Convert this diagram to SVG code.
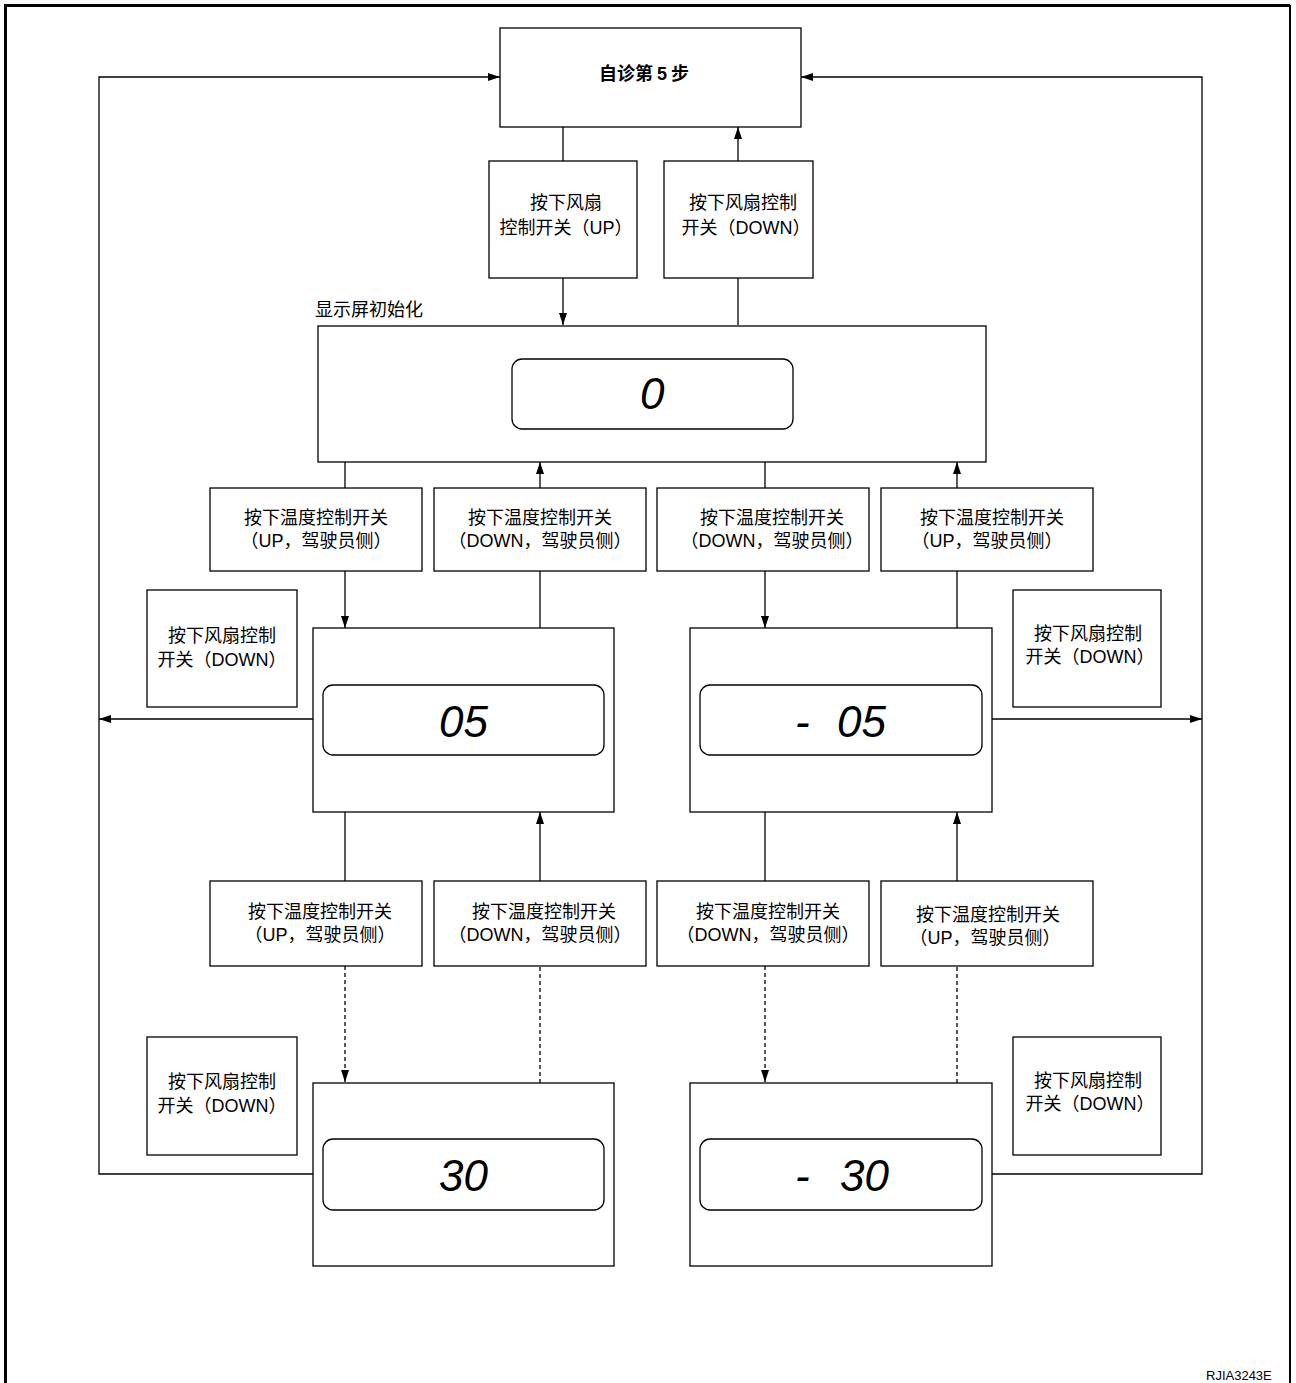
<svg xmlns="http://www.w3.org/2000/svg" width="1296" height="1383" viewBox="0 0 1296 1383">
  <defs>
    <marker id="arrow" viewBox="0 0 12 8" refX="12" refY="4" markerWidth="12" markerHeight="8" markerUnits="userSpaceOnUse" orient="auto">
      <path d="M0,0 L12,4 L0,8 Z" fill="#000"/>
    </marker>
    <style>
      .box { fill: #fff; stroke: #000; stroke-width: 1.3; }
      .lcd { fill: none; stroke: #000; stroke-width: 1.3; }
      .ln { fill: none; stroke: #000; stroke-width: 1.3; }
      .dash { stroke-dasharray: 4 3; }
      .t { font-family: "Noto Sans CJK SC", sans-serif; font-size: 18px; fill: #000; text-anchor: middle; }
      .l { font-family: "Liberation Sans", sans-serif; }
      .title { font-family: "Noto Sans CJK SC", sans-serif; font-size: 18px; font-weight: bold; fill: #000; text-anchor: middle; }
      .seg { font-family: "Liberation Sans", sans-serif; font-size: 44px; font-style: italic; fill: #000; }
      .cap { font-family: "Liberation Sans", sans-serif; font-size: 13px; fill: #000; }
    </style>
  </defs>

  <rect width="1296" height="1383" fill="#fff"/>

  <!-- page frame: heavy left/top edge, thin right edge, open at the bottom -->
  <path d="M5.5,1383 V5.5 H1290" fill="none" stroke="#000" stroke-width="3"/>
  <path d="M1290,5 V1383" fill="none" stroke="#000" stroke-width="2"/>

  <!-- connectors -->
  <g id="connectors">
    <!-- outer return loops to step 5 -->
    <path class="ln" d="M313,1174 H99 V77 H500" marker-end="url(#arrow)"/>
    <path class="ln" d="M992,1174 H1202 V77 H801" marker-end="url(#arrow)"/>
    <path class="ln" d="M313,719 H99" marker-end="url(#arrow)"/>
    <path class="ln" d="M992,719 H1202" marker-end="url(#arrow)"/>

    <!-- step 5 <-> init -->
    <path class="ln" d="M563,127 V161"/>
    <path class="ln" d="M563,278 V325" marker-end="url(#arrow)"/>
    <path class="ln" d="M738,325 V278"/>
    <path class="ln" d="M738,161 V127" marker-end="url(#arrow)"/>

    <!-- init <-> 05 / -05 -->
    <path class="ln" d="M345,462 V488"/>
    <path class="ln" d="M345,571 V628" marker-end="url(#arrow)"/>
    <path class="ln" d="M540,628 V571"/>
    <path class="ln" d="M540,488 V462" marker-end="url(#arrow)"/>
    <path class="ln" d="M765,462 V488"/>
    <path class="ln" d="M765,571 V628" marker-end="url(#arrow)"/>
    <path class="ln" d="M957,628 V571"/>
    <path class="ln" d="M957,488 V462" marker-end="url(#arrow)"/>

    <!-- 05 / -05 <-> 30 / -30 -->
    <path class="ln" d="M345,812 V881"/>
    <path class="ln dash" d="M345,966 V1082" marker-end="url(#arrow)"/>
    <path class="ln dash" d="M540,1083 V966"/>
    <path class="ln" d="M540,881 V812" marker-end="url(#arrow)"/>
    <path class="ln" d="M765,812 V881"/>
    <path class="ln dash" d="M765,966 V1082" marker-end="url(#arrow)"/>
    <path class="ln dash" d="M957,1083 V966"/>
    <path class="ln" d="M957,881 V812" marker-end="url(#arrow)"/>
  </g>

  <!-- step 5 -->
  <g id="step5">
    <rect class="box" x="500" y="28" width="301" height="99"/>
    <text class="title" x="644" y="80">自诊第 <tspan class="l">5</tspan> 步</text>
  </g>

  <!-- fan switch boxes -->
  <g id="fan-up">
    <rect class="box" x="489" y="161" width="148" height="117"/>
    <text class="t" x="566" y="209">按下风扇</text>
    <text class="t" x="566" y="234">控制开关（<tspan class="l">UP</tspan>）</text>
  </g>
  <g id="fan-down">
    <rect class="box" x="664" y="161" width="149" height="117"/>
    <text class="t" x="743" y="209">按下风扇控制</text>
    <text class="t" x="746" y="234">开关（<tspan class="l">DOWN</tspan>）</text>
  </g>

  <!-- display init -->
  <g id="display-init">
    <text class="t" x="315" y="316" style="text-anchor:start">显示屏初始化</text>
    <rect class="box" x="318" y="326" width="668" height="136"/>
    <rect class="lcd" x="512" y="359" width="281" height="70" rx="10"/>
    <text class="seg" x="640" y="409">0</text>
  </g>

  <!-- temperature switch boxes, upper row -->
  <g id="temp-up-1">
    <rect class="box" x="210" y="488" width="212" height="83"/>
    <text class="t" x="316" y="524">按下温度控制开关</text>
    <text class="t" x="316" y="547">（<tspan class="l">UP</tspan>，驾驶员侧）</text>
  </g>
  <g id="temp-down-1">
    <rect class="box" x="434" y="488" width="212" height="83"/>
    <text class="t" x="540" y="524">按下温度控制开关</text>
    <text class="t" x="540" y="547">（<tspan class="l">DOWN</tspan>，驾驶员侧）</text>
  </g>
  <g id="temp-down-2">
    <rect class="box" x="657" y="488" width="212" height="83"/>
    <text class="t" x="772" y="524">按下温度控制开关</text>
    <text class="t" x="772" y="547">（<tspan class="l">DOWN</tspan>，驾驶员侧）</text>
  </g>
  <g id="temp-up-2">
    <rect class="box" x="881" y="488" width="212" height="83"/>
    <text class="t" x="992" y="524">按下温度控制开关</text>
    <text class="t" x="987" y="547">（<tspan class="l">UP</tspan>，驾驶员侧）</text>
  </g>

  <!-- fan DOWN side notes -->
  <g id="fan-down-l1">
    <rect class="box" x="147" y="590" width="150" height="117"/>
    <text class="t" x="222" y="642">按下风扇控制</text>
    <text class="t" x="222" y="666">开关（<tspan class="l">DOWN</tspan>）</text>
  </g>
  <g id="fan-down-r1">
    <rect class="box" x="1013" y="590" width="148" height="117"/>
    <text class="t" x="1088" y="640">按下风扇控制</text>
    <text class="t" x="1090" y="663">开关（<tspan class="l">DOWN</tspan>）</text>
  </g>

  <!-- 05 display -->
  <g id="display-05">
    <rect class="box" x="313" y="628" width="301" height="184"/>
    <rect class="lcd" x="323" y="685" width="281" height="70" rx="10"/>
    <text class="seg" x="439" y="737">05</text>
  </g>

  <!-- -05 display -->
  <g id="display-m05">
    <rect class="box" x="690" y="628" width="302" height="184"/>
    <rect class="lcd" x="700" y="685" width="282" height="70" rx="10"/>
    <text class="seg" x="795" y="737">-</text>
    <text class="seg" x="837" y="737">05</text>
  </g>

  <!-- temperature switch boxes, lower row -->
  <g id="temp-up-3">
    <rect class="box" x="210" y="881" width="212" height="85"/>
    <text class="t" x="320" y="918">按下温度控制开关</text>
    <text class="t" x="320" y="941">（<tspan class="l">UP</tspan>，驾驶员侧）</text>
  </g>
  <g id="temp-down-3">
    <rect class="box" x="434" y="881" width="212" height="85"/>
    <text class="t" x="544" y="918">按下温度控制开关</text>
    <text class="t" x="540" y="941">（<tspan class="l">DOWN</tspan>，驾驶员侧）</text>
  </g>
  <g id="temp-down-4">
    <rect class="box" x="657" y="881" width="212" height="85"/>
    <text class="t" x="768" y="918">按下温度控制开关</text>
    <text class="t" x="768" y="941">（<tspan class="l">DOWN</tspan>，驾驶员侧）</text>
  </g>
  <g id="temp-up-4">
    <rect class="box" x="881" y="881" width="212" height="85"/>
    <text class="t" x="988" y="921">按下温度控制开关</text>
    <text class="t" x="985" y="944">（<tspan class="l">UP</tspan>，驾驶员侧）</text>
  </g>

  <!-- fan DOWN side notes, bottom -->
  <g id="fan-down-l2">
    <rect class="box" x="147" y="1037" width="150" height="118"/>
    <text class="t" x="222" y="1088">按下风扇控制</text>
    <text class="t" x="222" y="1112">开关（<tspan class="l">DOWN</tspan>）</text>
  </g>
  <g id="fan-down-r2">
    <rect class="box" x="1013" y="1037" width="148" height="118"/>
    <text class="t" x="1088" y="1087">按下风扇控制</text>
    <text class="t" x="1090" y="1110">开关（<tspan class="l">DOWN</tspan>）</text>
  </g>

  <!-- 30 display -->
  <g id="display-30">
    <rect class="box" x="313" y="1083" width="301" height="183"/>
    <rect class="lcd" x="323" y="1139" width="281" height="71" rx="10"/>
    <text class="seg" x="439" y="1191">30</text>
  </g>

  <!-- -30 display -->
  <g id="display-m30">
    <rect class="box" x="690" y="1083" width="302" height="183"/>
    <rect class="lcd" x="700" y="1139" width="282" height="71" rx="10"/>
    <text class="seg" x="795" y="1191">-</text>
    <text class="seg" x="840" y="1191">30</text>
  </g>

  <text class="cap" x="1206" y="1380">RJIA3243E</text>
</svg>
